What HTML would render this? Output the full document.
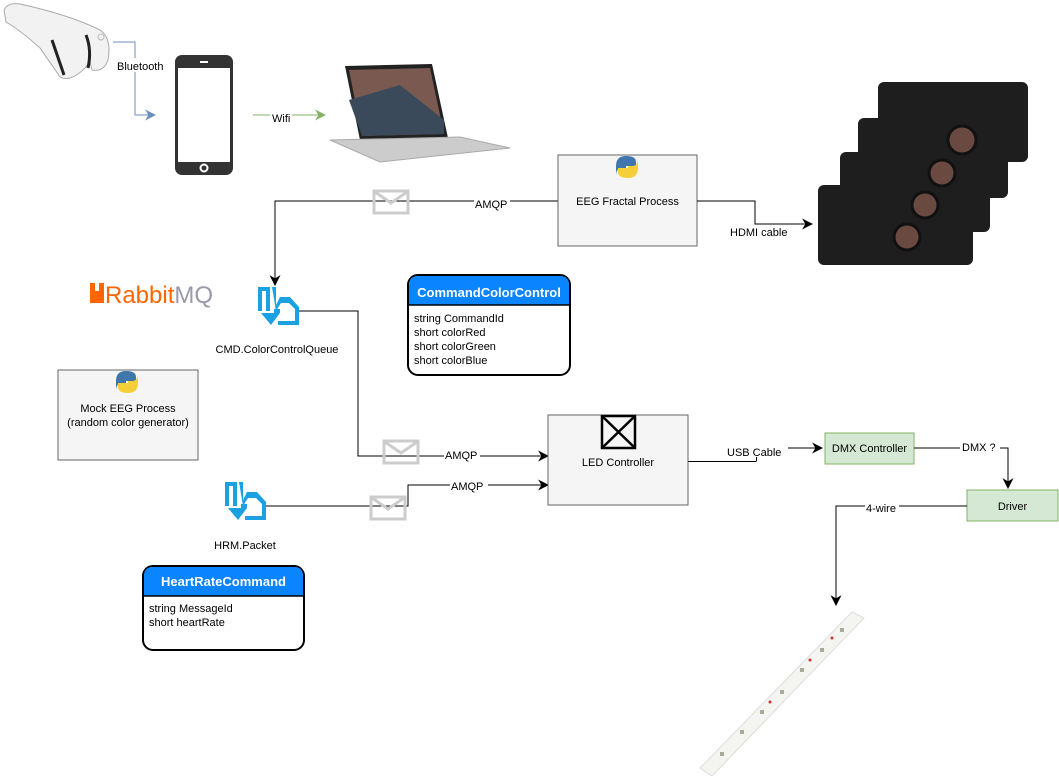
<!DOCTYPE html>
<html><head><meta charset="utf-8"><style>
html,body{margin:0;padding:0;background:#fff;}
svg{display:block;font-family:"Liberation Sans",Arial,sans-serif;}
</style></head><body>
<svg width="1059" height="779" viewBox="0 0 1059 779" xmlns="http://www.w3.org/2000/svg">
<defs>
<marker id="ab" viewBox="0 0 10 10" refX="9" refY="5" markerWidth="11" markerHeight="11" markerUnits="userSpaceOnUse" orient="auto"><path d="M0,0 L10,5 L0,10 L3,5z" fill="#000"/></marker>
<marker id="abb" viewBox="0 0 10 10" refX="9" refY="5" markerWidth="11" markerHeight="11" markerUnits="userSpaceOnUse" orient="auto"><path d="M0,0 L10,5 L0,10 L3,5z" fill="#6c8ebf"/></marker>
<marker id="abg" viewBox="0 0 10 10" refX="9" refY="5" markerWidth="11" markerHeight="11" markerUnits="userSpaceOnUse" orient="auto"><path d="M0,0 L10,5 L0,10 L3,5z" fill="#82b366"/></marker>
<g id="env"><rect x="0" y="0" width="34" height="22" fill="none" stroke="#ccc" stroke-width="3"/><path d="M1,1 L17,12 L33,1" fill="none" stroke="#ccc" stroke-width="3"/></g>
<g id="q"><path d="M3,2 h12 v24 h-4 v-20 h-4 v20 h-4z M17,2 h4 v18 l4,-8 h10 l9,10 v18 h-21 v-4 h17 v-12 l-6,-6 h-8 l-5,8 z M6,28 h13 v-4 h6 v4 l-9,12z" fill="#1ba1e2"/></g>
<g id="py"><path d="M0,10 q0,-10 10,-10 q10,0 10,6 v4 h-10 v2 h-4 q-6,0 -6,8z" fill="#3f77ad"/><path d="M22,12 q0,10 -10,10 q-10,0 -10,-6 v-4 h10 v-2 h4 q6,0 6,-8z" fill="#f5cf3a"/></g>
</defs>

<!-- headband -->
<path d="M4,10 Q8,2 20,4 Q70,15 100,30 Q112,38 108,60 Q104,72 92,70 L90,62 Q80,75 70,78 Q60,80 58,74 L40,48 Q20,30 6,22z" fill="#f2f2f2" stroke="#aaa"/>
<path d="M52,40 L64,75" stroke="#222" stroke-width="3" fill="none"/>
<path d="M86,35 Q92,50 88,68" stroke="#222" stroke-width="3" fill="none"/>
<circle cx="101" cy="37" r="3" fill="none" stroke="#bbb"/>
<!-- bluetooth -->
<path d="M113,42 H135 V115 H155" fill="none" stroke="#6c8ebf" marker-end="url(#abb)"/>
<rect x="115" y="58" width="54" height="14" fill="#fff"/>
<text x="117" y="70" font-size="11">Bluetooth</text>
<!-- phone -->
<rect x="175" y="55" width="58" height="120" rx="7" fill="#333"/>
<rect x="178" y="68" width="52" height="94" fill="#fff"/>
<rect x="200" y="61" width="8" height="2" fill="#fff"/>
<circle cx="204" cy="168" r="3.5" fill="none" stroke="#fff" stroke-width="2"/>
<!-- wifi -->
<path d="M253,115 H325" fill="none" stroke="#82b366" marker-end="url(#abg)"/>
<rect x="270" y="110" width="22" height="13" fill="#fff"/>
<text x="272" y="122" font-size="11">Wifi</text>
<!-- laptop -->
<path d="M345,66 L432,64 L448,138 L360,140z" fill="#222"/>
<path d="M349,70 L430,68 L444,134 L362,136z" fill="#7a5a50"/>
<path d="M349,100 L400,85 L444,120 L444,134 L362,136z" fill="#3b4a5a"/>
<path d="M330,140 L460,137 L510,148 L380,162z" fill="#ccc" stroke="#aaa"/>
<!-- EEG Fractal -->
<path d="M558,201 H275 V285" fill="none" stroke="#000" marker-end="url(#ab)"/>
<use href="#env" x="374" y="191"/>
<rect x="474" y="196" width="36" height="14" fill="#fff"/>
<text x="475" y="208" font-size="11">AMQP</text>
<rect x="558" y="155" width="139" height="91" fill="#f5f5f5" stroke="#666"/>
<use href="#py" x="616" y="156"/>
<text x="627.5" y="205" font-size="11" text-anchor="middle">EEG Fractal Process</text>
<path d="M697,201 H755 V224 H812" fill="none" stroke="#000" marker-end="url(#ab)"/>
<text x="730" y="236" font-size="11">HDMI cable</text>
<!-- projectors -->
<g fill="#1e1e1e">
<rect x="878" y="82" width="150" height="80" rx="6"/>
<rect x="858" y="118" width="150" height="80" rx="6"/>
<rect x="840" y="152" width="150" height="80" rx="6"/>
<rect x="818" y="185" width="155" height="80" rx="6"/>
</g>
<g fill="#6a4a40" stroke="#111" stroke-width="3"><circle cx="962" cy="140" r="14"/><circle cx="942" cy="173" r="13"/><circle cx="925" cy="205" r="13"/><circle cx="907" cy="237" r="13"/></g>
<!-- RabbitMQ -->
<path d="M90,283 h5 v8 h4 v-8 h5 v20 h-14z" fill="#f60"/>
<text x="105" y="303" font-size="24" fill="#f60">Rabbit<tspan fill="#99a">MQ</tspan></text>
<!-- queue -->
<use href="#q" x="255" y="285"/>
<text x="277" y="353" font-size="11" text-anchor="middle">CMD.ColorControlQueue</text>
<!-- CommandColorControl -->
<rect x="408" y="275" width="162" height="100" rx="10" fill="#fff" stroke="#000" stroke-width="2"/>
<path d="M409,305 V285 Q409,276 418,276 H560 Q569,276 569,285 V305z" fill="#0a84ff"/>
<line x1="408" y1="305" x2="570" y2="305" stroke="#000" stroke-width="1.5"/>
<text x="489" y="297" font-size="13" font-weight="bold" fill="#fff" text-anchor="middle">CommandColorControl</text>
<g font-size="11"><text x="414" y="322">string CommandId</text><text x="414" y="336">short colorRed</text><text x="414" y="350">short colorGreen</text><text x="414" y="364">short colorBlue</text></g>
<!-- Mock EEG -->
<rect x="58" y="370" width="140" height="90" fill="#f5f5f5" stroke="#666"/>
<use href="#py" x="116" y="371"/>
<text x="128" y="412" font-size="11" text-anchor="middle">Mock EEG Process</text>
<text x="128" y="426" font-size="11" text-anchor="middle">(random color generator)</text>
<!-- lines to LED -->
<path d="M299,311 H358 V456 H548" fill="none" stroke="#000" marker-end="url(#ab)"/>
<use href="#env" x="384" y="441"/>
<rect x="444" y="449" width="36" height="13" fill="#fff"/>
<text x="445" y="459" font-size="11">AMQP</text>
<use href="#q" x="222" y="480"/>
<text x="245" y="549" font-size="11" text-anchor="middle">HRM.Packet</text>
<path d="M266,506 H408 V485 H548" fill="none" stroke="#000" marker-end="url(#ab)"/>
<use href="#env" x="371" y="497"/>
<rect x="450" y="480" width="38" height="13" fill="#fff"/>
<text x="451" y="490" font-size="11">AMQP</text>
<!-- HeartRateCommand -->
<rect x="143" y="566" width="161" height="84" rx="10" fill="#fff" stroke="#000" stroke-width="2"/>
<path d="M144,596 V576 Q144,567 153,567 H294 Q303,567 303,576 V596z" fill="#0a84ff"/>
<line x1="143" y1="596" x2="304" y2="596" stroke="#000" stroke-width="1.5"/>
<text x="223.5" y="586" font-size="13" font-weight="bold" fill="#fff" text-anchor="middle">HeartRateCommand</text>
<g font-size="11"><text x="149" y="612">string MessageId</text><text x="149" y="626">short heartRate</text></g>
<!-- LED Controller -->
<rect x="548" y="415" width="140" height="90" fill="#f5f5f5" stroke="#666"/>
<rect x="602" y="416" width="33" height="32" fill="none" stroke="#000" stroke-width="2.5"/>
<path d="M602,416 L635,448 M635,416 L602,448" stroke="#000" stroke-width="2.5"/>
<text x="618" y="466" font-size="11" text-anchor="middle">LED Controller</text>
<path d="M788,448 H822" fill="none" stroke="#000" marker-end="url(#ab)"/>
<line x1="688" y1="461.5" x2="756" y2="461.5" stroke="#000" stroke-width="1"/>
<line x1="756.5" y1="461.5" x2="756.5" y2="457" stroke="#000" stroke-width="1"/>
<text x="727" y="456" font-size="11">USB Cable</text>
<rect x="825" y="433" width="89" height="31" fill="#d5e8d4" stroke="#82b366"/>
<text x="869.5" y="452" font-size="11" text-anchor="middle">DMX Controller</text>
<path d="M914,448 H1008 V488" fill="none" stroke="#000" marker-end="url(#ab)"/>
<rect x="960" y="440" width="40" height="13" fill="#fff"/>
<text x="962" y="451" font-size="11">DMX ?</text>
<rect x="967" y="490" width="91" height="31" fill="#d5e8d4" stroke="#82b366"/>
<text x="1012.5" y="510" font-size="11" text-anchor="middle">Driver</text>
<path d="M967,506 H836 V605" fill="none" stroke="#000" marker-end="url(#ab)"/>
<rect x="865" y="501" width="34" height="13" fill="#fff"/>
<text x="866" y="512" font-size="11">4-wire</text>
<!-- LED strip -->
<path d="M700,768 L852,612 L864,618 L712,776z" fill="#f4f4f0" stroke="#ddd"/>
<g fill="#aa9">
<rect x="720" y="752" width="4" height="4"/><rect x="740" y="730" width="4" height="4"/><rect x="760" y="710" width="4" height="4"/><rect x="780" y="690" width="4" height="4"/><rect x="800" y="668" width="4" height="4"/><rect x="820" y="648" width="4" height="4"/><rect x="840" y="628" width="4" height="4"/>
</g>
<g fill="#c33"><circle cx="810" cy="660" r="1.5"/><circle cx="770" cy="702" r="1.5"/><circle cx="832" cy="638" r="1.5"/></g>
</svg>
</body></html>
